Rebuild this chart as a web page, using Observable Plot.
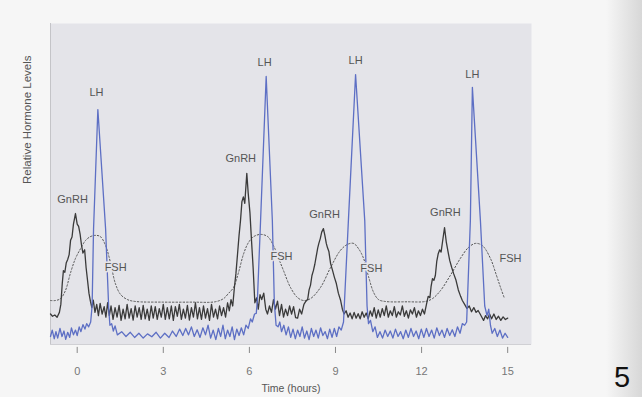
<!DOCTYPE html>
<html><head><meta charset="utf-8">
<script src="https://cdn.jsdelivr.net/npm/d3@7"></script>
<script src="https://cdn.jsdelivr.net/npm/@observablehq/plot@0.6"></script>
<style>
html,body{margin:0;padding:0;background:#f6f6f6;}
#wrap{position:relative;width:642px;height:397px;overflow:hidden;}
#edge{position:absolute;right:0;top:0;width:36px;height:397px;background:linear-gradient(to right, rgba(190,190,190,0), rgba(190,190,190,0.55));}
#pg{position:absolute;left:614px;top:363px;font:29px/1 "Liberation Sans",Arial,sans-serif;color:#111;}
</style></head><body>
<div id="wrap"><div id="chart"></div><div id="edge"></div><div id="pg">5</div></div>
<script>
// Time in hours, relative level (0-100)
const xTicks = [0, 3, 6, 9, 12, 15];

const gnrhPoints = [
[-0.93,9.5],[-0.86,8.8],[-0.78,9.2],[-0.7,8.5],[-0.62,10],[-0.57,12.5],[-0.52,19],[-0.48,23],[-0.43,22.5],[-0.38,25.5],[-0.33,26.5],[-0.28,28],[-0.23,32.5],[-0.18,33.5],[-0.13,37.5],[-0.06,40.8],[0.0,37.5],[0.05,36.8],[0.1,34.5],[0.15,31],[0.2,28.5],[0.26,29.5],[0.31,24],[0.36,20],[0.41,16],[0.46,13.5],[0.51,11.5],[0.56,13.8],[0.62,10],[0.68,12.5],[0.74,9],[0.8,12.8],[0.87,9.5],[0.94,11.8],[1.0,8.5],[1.06,13],[1.12,9],[1.18,12],[1.25,7.8],[1.32,11.5],[1.39,8.5],[1.46,12.2],[1.53,7.5],[1.6,11],[1.67,8],[1.74,12.5],[1.81,8.2],[1.88,11.2],[1.95,7.6],[2.02,12],[2.09,8.5],[2.16,11.5],[2.23,7.8],[2.3,12.2],[2.37,8],[2.44,11],[2.51,7.5],[2.58,12],[2.65,8.2],[2.72,11.8],[2.79,7.8],[2.86,11.2],[2.93,8.5],[3.0,12.5],[3.07,7.8],[3.14,11.5],[3.21,8],[3.28,12],[3.35,7.5],[3.42,11.8],[3.49,8.8],[3.56,12.5],[3.63,7.8],[3.7,11],[3.77,8.2],[3.84,12.2],[3.91,7.6],[3.98,11.5],[4.05,8.5],[4.12,13],[4.19,8],[4.26,11.5],[4.33,7.8],[4.4,12],[4.47,8.2],[4.54,11.2],[4.61,7.5],[4.68,12.5],[4.75,8.5],[4.82,11],[4.89,8],[4.96,12],[5.03,9],[5.1,11.5],[5.17,8.5],[5.24,13],[5.3,10.5],[5.36,14],[5.42,12],[5.48,18],[5.53,22],[5.59,28.5],[5.64,34],[5.69,38.6],[5.74,44.5],[5.79,46],[5.84,44],[5.91,53.3],[5.96,47],[6.02,41],[6.07,33],[6.13,24],[6.19,13],[6.25,14.5],[6.31,11],[6.37,15.5],[6.43,14],[6.5,16],[6.57,11],[6.63,9.5],[6.7,12],[6.77,10],[6.84,14],[6.91,11],[6.98,13.5],[7.05,9],[7.12,12.5],[7.19,8.5],[7.26,11],[7.33,9],[7.4,12],[7.47,9.5],[7.54,11.8],[7.61,8.4],[7.68,8.2],[7.75,11],[7.82,9.5],[7.9,12.5],[7.97,13.5],[8.03,14],[8.08,17],[8.13,18.5],[8.18,21.5],[8.23,23],[8.28,25],[8.33,27.5],[8.38,30],[8.42,31.5],[8.47,33],[8.52,35],[8.58,36.1],[8.63,34],[8.68,31.5],[8.72,30.2],[8.77,29],[8.83,25.2],[8.9,23],[8.96,21],[9.03,19],[9.1,16],[9.18,13.7],[9.24,11],[9.3,9.5],[9.37,10.5],[9.44,8.5],[9.51,9.8],[9.58,8],[9.65,10],[9.72,8.2],[9.79,9.6],[9.86,8],[9.93,10.2],[10.0,8.5],[10.07,9.8],[10.14,8],[10.21,10.5],[10.28,8.8],[10.35,11.5],[10.42,8.2],[10.49,10.8],[10.56,8.5],[10.63,11.2],[10.7,9],[10.77,12],[10.84,8.5],[10.91,10.5],[10.98,9],[11.05,11.8],[11.12,8.5],[11.19,10.2],[11.26,9.2],[11.33,12],[11.4,8.8],[11.47,10.5],[11.54,8.2],[11.61,10.8],[11.68,9.5],[11.75,11.5],[11.82,8.5],[11.89,10.5],[11.96,9],[12.03,11],[12.1,9.5],[12.17,12.5],[12.23,15],[12.29,14.6],[12.33,18],[12.38,20.5],[12.43,20],[12.48,21.5],[12.53,26],[12.58,28.3],[12.63,29.5],[12.68,28.8],[12.73,32],[12.8,36.4],[12.86,32],[12.92,29],[12.98,26.2],[13.05,24],[13.12,22],[13.2,20],[13.28,17],[13.36,15],[13.42,13.7],[13.5,12.5],[13.58,11.2],[13.66,12],[13.74,10.2],[13.82,11.5],[13.9,10],[13.97,10.6],[14.04,9.5],[14.1,8.5],[14.16,7.5],[14.23,9],[14.3,8],[14.37,9.5],[14.44,8],[14.52,9.5],[14.6,7.8],[14.68,8.8],[14.76,7.5],[14.84,8.6],[14.92,7.8],[15.0,8.2]
];

const lhPoints = [
[-0.93,2.5],[-0.87,4.5],[-0.8,1.8],[-0.74,4],[-0.68,2],[-0.6,5],[-0.53,2.5],[-0.46,4.2],[-0.4,1.6],[-0.33,3.8],[-0.26,2.2],[-0.2,5.2],[-0.13,3],[-0.06,4.5],[0.0,2.8],[0.07,5.5],[0.13,4],[0.2,6.2],[0.27,4.8],[0.33,6.5],[0.4,5.5],[0.47,7],[0.52,12],[0.57,36],[0.72,73.2],[0.99,36],[1.1,11],[1.14,6],[1.2,6.5],[1.26,4.2],[1.32,5.8],[1.4,3],[1.55,4],[1.7,2.5],[1.85,3.8],[2.0,2.2],[2.15,3.5],[2.3,2],[2.45,3.3],[2.6,2.4],[2.75,3.8],[2.9,2],[3.05,3.5],[3.2,2.2],[3.32,4.2],[3.45,2.5],[3.57,4.8],[3.68,2.8],[3.78,5],[3.88,3],[3.98,5.5],[4.08,2.5],[4.18,4.6],[4.28,2.2],[4.38,5.2],[4.47,3],[4.56,6],[4.65,2],[4.74,4.5],[4.83,1.5],[4.92,5],[5.0,2.5],[5.08,6],[5.16,1.8],[5.24,4.5],[5.32,2.5],[5.4,5.5],[5.48,1.5],[5.56,4.8],[5.64,2.8],[5.72,5.2],[5.8,3],[5.88,6],[5.96,5],[6.04,8],[6.1,7],[6.18,9.5],[6.24,9.7],[6.28,14],[6.39,38.6],[6.585,83.5],[6.8,38.6],[6.87,12.8],[6.93,6],[7.0,5.5],[7.06,7],[7.12,4],[7.2,6],[7.28,3],[7.36,5.5],[7.44,2.2],[7.52,4.8],[7.6,1.8],[7.68,4.5],[7.76,2.5],[7.84,5.5],[7.92,2],[8.0,4.2],[8.08,1.5],[8.16,5],[8.24,2.5],[8.32,4.5],[8.4,2],[8.48,5.2],[8.56,2.8],[8.64,4],[8.72,1.8],[8.8,4.8],[8.88,2.2],[8.96,5],[9.04,2.5],[9.12,5.5],[9.2,4.5],[9.28,7],[9.45,38.6],[9.7,84.1],[10.02,38.6],[10.1,12],[10.15,6.5],[10.22,7.5],[10.3,4],[10.38,5.5],[10.46,2.2],[10.55,4],[10.64,2],[10.73,4.5],[10.82,2.5],[10.91,4.2],[11.0,2],[11.09,4.8],[11.18,2.5],[11.27,4],[11.36,1.8],[11.45,4.5],[11.54,2.2],[11.63,5],[11.72,2.5],[11.81,4.2],[11.9,1.8],[11.99,4.8],[12.08,2.2],[12.17,5],[12.26,2.5],[12.35,4.5],[12.44,2],[12.53,5.2],[12.62,2.8],[12.71,4.5],[12.8,2.2],[12.89,5],[12.98,2.8],[13.07,4.6],[13.16,2.5],[13.25,5.5],[13.34,3.5],[13.42,6.5],[13.5,6],[13.57,7],[13.7,38.6],[13.77,80.1],[14.05,38.6],[14.2,12],[14.28,9],[14.34,11],[14.4,6],[14.46,3.5],[14.55,5],[14.64,2.5],[14.73,4.5],[14.82,2],[14.91,3.5],[15.0,2.2]
];

const fshPoints = [
[-0.93,13.7],[-0.76,13.7],[-0.58,14.3],[-0.41,16.8],[-0.23,22.4],[-0.06,26.8],[0.12,29.9],[0.29,32.4],[0.46,33.6],[0.64,34],[0.81,33.6],[0.99,30.8],[1.16,25.5],[1.33,19],[1.51,15.6],[1.75,14],[2.03,13.4],[3.0,13.2],[4.0,13.2],[4.8,13.3],[5.1,14.3],[5.27,15.9],[5.45,17.8],[5.62,22.4],[5.8,28.3],[5.97,31.8],[6.15,33.6],[6.39,34.3],[6.64,33.6],[6.84,30.8],[7.02,26.8],[7.19,23],[7.43,17.8],[7.68,14.6],[7.89,13.7],[8.13,14.3],[8.48,17.8],[8.83,24],[9.17,29.3],[9.42,31.2],[9.63,31.5],[9.8,29.9],[9.98,26.8],[10.15,21.2],[10.33,16.2],[10.5,14],[10.74,13.4],[11.5,13.3],[12.13,13.4],[12.38,14.3],[12.66,16.8],[13.0,21.5],[13.35,26.8],[13.63,30.2],[13.88,31.5],[14.12,30.8],[14.4,26.8],[14.61,21.5],[14.75,17.8],[14.89,14.3]
];

const labelText  = ["LH","LH","LH","LH","GnRH","GnRH","GnRH","GnRH","FSH","FSH","FSH","FSH"];
const labelTime  = [0.67, 6.53, 9.7, 13.77, -0.16, 5.7, 8.62, 12.83, 1.34, 7.12, 10.25, 15.1];
const labelLevel = [78.5, 87.9, 88.5, 84.1, 45.2, 57.9, 40.5, 41.1, 24, 27.4, 23.7, 26.8];

const toRows = pts => pts.map(([t, v]) => ({t, v}));
const labels = labelText.map((s, i) => ({s, t: labelTime[i], v: labelLevel[i]}));

const BG = "#e4e4e9";
const chart = Plot.plot({
  width: 642, height: 397,
  marginLeft: 50, marginRight: 111, marginTop: 23, marginBottom: 53,
  x: {domain: [-0.93, 15.83]},
  y: {domain: [0, 100], axis: null},
  style: {background: "transparent", fontFamily: "'Liberation Sans', Arial, sans-serif"},
  marks: [
    Plot.frame({fill: BG, stroke: null}),
    Plot.ruleX([-0.93], {stroke: "#c4c4c8"}),
    Plot.ruleY([0], {stroke: "#d0d0d4"}),
    Plot.line(toRows(fshPoints), {x: "t", y: "v", stroke: "#555", strokeWidth: 1, strokeDasharray: "1.5,2", curve: "catmull-rom"}),
    Plot.line(toRows(gnrhPoints), {x: "t", y: "v", stroke: "#3a3a3a", strokeWidth: 1.3}),
    Plot.line(toRows(lhPoints), {x: "t", y: "v", stroke: "#5d6fc4", strokeWidth: 1.3}),
    Plot.text(labels, {x: "t", y: "v", text: "s", fill: "#555", fontSize: 11, stroke: BG, strokeWidth: 3}),
    Plot.ruleX(xTicks, {x: d => d, y1: -0.9, y2: -2.8, stroke: "#888"}),
    Plot.axisX({ticks: xTicks, tickSize: 0, tickPadding: 23, fontSize: 11, color: "#777", label: null}),
    Plot.text(["Time (hours)"], {frameAnchor: "bottom", dy: 47, fontSize: 10.5, fill: "#555"}),
    Plot.text(["Relative Hormone Levels"], {frameAnchor: "left", dx: -23, rotate: -90, fontSize: 11.5, fill: "#555"})
  ]
});
document.getElementById("chart").appendChild(chart);
</script>
</body></html>
